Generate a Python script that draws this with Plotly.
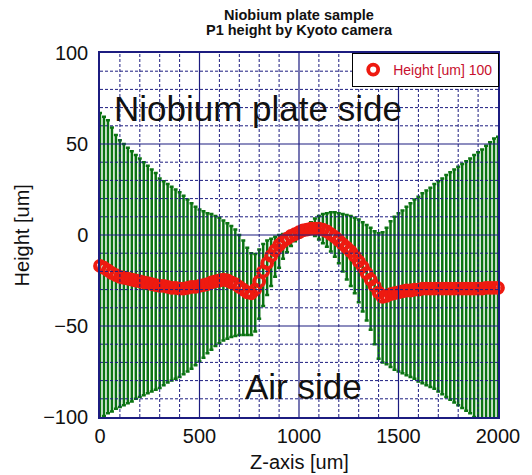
import plotly.graph_objects as go

# ---------------- data ----------------
z_um = [0, 20, 40, 60, 80, 100, 120, 140, 160, 180,
        200, 220, 240, 260, 280, 300, 320, 340, 360, 380,
        400, 420, 440, 460, 480, 500, 520, 540, 560, 580,
        600, 620, 640, 660, 680, 700, 720, 740, 760, 780,
        800, 820, 840, 860, 880, 900, 920, 940, 960, 980,
        1000, 1020, 1040, 1060, 1080, 1100, 1120, 1140, 1160, 1180,
        1200, 1220, 1240, 1260, 1280, 1300, 1320, 1340, 1360, 1380,
        1400, 1420, 1440, 1460, 1480, 1500, 1520, 1540, 1560, 1580,
        1600, 1620, 1640, 1660, 1680, 1700, 1720, 1740, 1760, 1780,
        1800, 1820, 1840, 1860, 1880, 1900, 1920, 1940, 1960, 1980,
        2000]

height_um = [-17, -18, -19.5, -21, -22, -23, -23.5, -24, -24.5, -25,
             -25.5, -26, -26.5, -27, -27.5, -28, -28, -28.5, -29, -29,
             -29.5, -29.5, -29, -28.5, -28.5, -28, -27.5, -27, -26, -25.5,
             -25, -24.5, -25, -26, -27, -28.5, -30, -31.5, -32, -30,
             -25.5, -20, -15.5, -11.5, -8.5, -5.5, -3.5, -2, -0.5, 0.5,
             1.5, 2.5, 3, 3.5, 3.5, 3.5, 3, 2, 0.5, -1,
             -3, -5, -7, -9, -11.5, -14.5, -17.5, -21, -24.5, -28,
             -31.5, -34, -33.5, -32.5, -32, -31.5, -31, -30.5, -30.5, -30,
             -30, -29.5, -29.5, -29.5, -29.5, -29.5, -29.5, -29.5, -29.5, -29.5,
             -29.5, -29.5, -29.5, -29.5, -29.5, -29.5, -29.5, -29, -29, -29,
             -29]

# top of each error bar
upper_edge = [67, 65, 63, 59, 55, 52, 50, 48, 46, 44,
              42, 40, 38, 36, 34, 31, 29.5, 28, 26.5, 25,
              23.5, 21.5, 19.5, 17.5, 15.5, 14, 13, 12, 11.5, 10.5,
              9.5, 8, 6.5, 5, 3, 0, -3, -7, -10, -10.5,
              -8, -5, -3, -2, -1, 0, 0.5, 1, 1.5, 2.5,
              3, 4, 5, 7, 9, 10.5, 11.5, 12, 12.5, 12.5,
              12, 11.5, 11, 10.5, 9.5, 8.5, 7, 5.5, 4, 2,
              1, 1.5, 4, 7.5, 10, 12, 13.5, 15.5, 17.5, 19.5,
              21, 23, 24.5, 26, 28, 29.5, 31, 33, 34.5, 36,
              37.5, 39, 40.5, 42, 44, 45.5, 47, 49, 51, 53,
              54]

# bottom of each error bar
lower_edge = [-101, -99.5, -98, -97, -95.5, -94.5, -93.5, -92.5, -91.5, -90,
              -89, -88, -87, -86, -85, -84, -82.5, -81, -80, -79,
              -78, -76.5, -75, -73.5, -71.5, -69.5, -67.5, -65, -63, -61,
              -59.5, -58, -57, -56, -55.5, -55, -55, -55, -55, -53,
              -46, -39, -33, -28, -23, -18, -13, -9.5, -6, -3.5,
              -1.5, 0, 0.5, 0.5, -0.5, -2.5, -4.5, -6.5, -9, -12,
              -15.5, -20, -24.5, -28, -32, -37, -42, -47, -52, -60,
              -68, -70, -71, -72.5, -74, -75, -76, -77, -78, -79,
              -80.5, -81.5, -82.5, -83.5, -84.5, -86, -87.5, -89, -90.5, -92,
              -93.5, -95, -96.5, -98, -100, -102, -104, -106, -108, -110,
              -112]

x_ticks = [0, 500, 1000, 1500, 2000]
y_ticks = [-100, -50, 0, 50, 100]

err_plus = [u - h for u, h in zip(upper_edge, height_um)]
err_minus = [h - l for h, l in zip(height_um, lower_edge)]

GRID = "#1c1c80"
GREEN = "#0b7412"
RED = "#ee1a10"
FONT = "Liberation Sans, Arial, sans-serif"

fig = go.Figure()

# green error bars
fig.add_trace(go.Scatter(
    x=z_um, y=height_um, mode="markers",
    marker=dict(size=1, opacity=0),
    error_y=dict(type="data", symmetric=False, array=err_plus,
                 arrayminus=err_minus, color=GREEN, thickness=2.5, width=2),
    showlegend=False, hoverinfo="skip",
))

# red open circles
fig.add_trace(go.Scatter(
    x=z_um, y=height_um, mode="markers", name="Height [um] 100",
    marker=dict(symbol="circle-open", size=10, color=RED,
                line=dict(width=3.8, color=RED)),
    cliponaxis=False,
))

# grid lines (solid majors, dashed minors) drawn above the bars
shapes = []
for v in range(100, 2000, 100):
    solid = v % 500 == 0
    shapes.append(dict(type="line", xref="x", yref="paper", x0=v, x1=v, y0=0, y1=1,
                       line=dict(color=GRID, width=1.2 if solid else 1,
                                 dash="solid" if solid else "3px,2px"),
                       layer="above"))
for v in range(-90, 100, 10):
    solid = v % 50 == 0
    shapes.append(dict(type="line", xref="paper", yref="y", x0=0, x1=1, y0=v, y1=v,
                       line=dict(color=GRID, width=1.2 if solid else 1,
                                 dash="solid" if solid else "3px,2px"),
                       layer="above"))

annotations = [
    dict(text="<b>Niobium plate sample</b>", xref="paper", yref="paper",
         x=0.5, y=1.104, xanchor="center", yanchor="middle", showarrow=False,
         font=dict(family=FONT, size=14.5, color="#111")),
    dict(text="<b>P1 height by Kyoto camera</b>", xref="paper", yref="paper",
         x=0.5, y=1.062, xanchor="center", yanchor="middle", showarrow=False,
         font=dict(family=FONT, size=14.5, color="#111")),
    dict(text="Niobium plate side", xref="paper", yref="paper",
         x=0.030, y=0.848, xanchor="left", yanchor="middle", showarrow=False,
         font=dict(family=FONT, size=35, color="#111")),
    dict(text="Air side", xref="paper", yref="paper",
         x=0.512, y=0.085, xanchor="center", yanchor="middle", showarrow=False,
         font=dict(family=FONT, size=35, color="#111")),
    dict(text="Z-axis [um]", xref="paper", yref="paper",
         x=0.5, y=-0.124, xanchor="center", yanchor="middle", showarrow=False,
         font=dict(family=FONT, size=20, color="#111")),
    dict(text="Height [um]", xref="paper", yref="paper",
         x=-0.195, y=0.5, xanchor="center", yanchor="middle", textangle=-90,
         showarrow=False, font=dict(family=FONT, size=20, color="#111")),
]

# the page body adds an 8px offset, so the figure is 8px smaller on each axis
fig.update_layout(
    width=524, height=467,
    margin=dict(l=92, r=32, t=45, b=58),
    paper_bgcolor="white", plot_bgcolor="white",
    font=dict(family=FONT, size=20, color="#111"),
    shapes=shapes, annotations=annotations,
    legend=dict(x=1.003, y=1.0, xanchor="right", yanchor="top",
                bgcolor="white", bordercolor="black", borderwidth=1,
                font=dict(family=FONT, size=14, color="#c8102e"),
                itemwidth=30, tracegroupgap=0),
    xaxis=dict(range=[0, 2000], tickvals=x_ticks, showgrid=False, zeroline=False,
               showline=True, linecolor=GRID, linewidth=1.5, mirror=True,
               ticks="", layer="above traces", tickfont=dict(size=20)),
    yaxis=dict(range=[-100, 100], tickvals=y_ticks, showgrid=False, zeroline=False,
               showline=True, linecolor=GRID, linewidth=1.5, mirror=True,
               ticks="", layer="above traces", tickfont=dict(size=20),
               ticklabelstandoff=6),
)

fig.write_html("out.html")
